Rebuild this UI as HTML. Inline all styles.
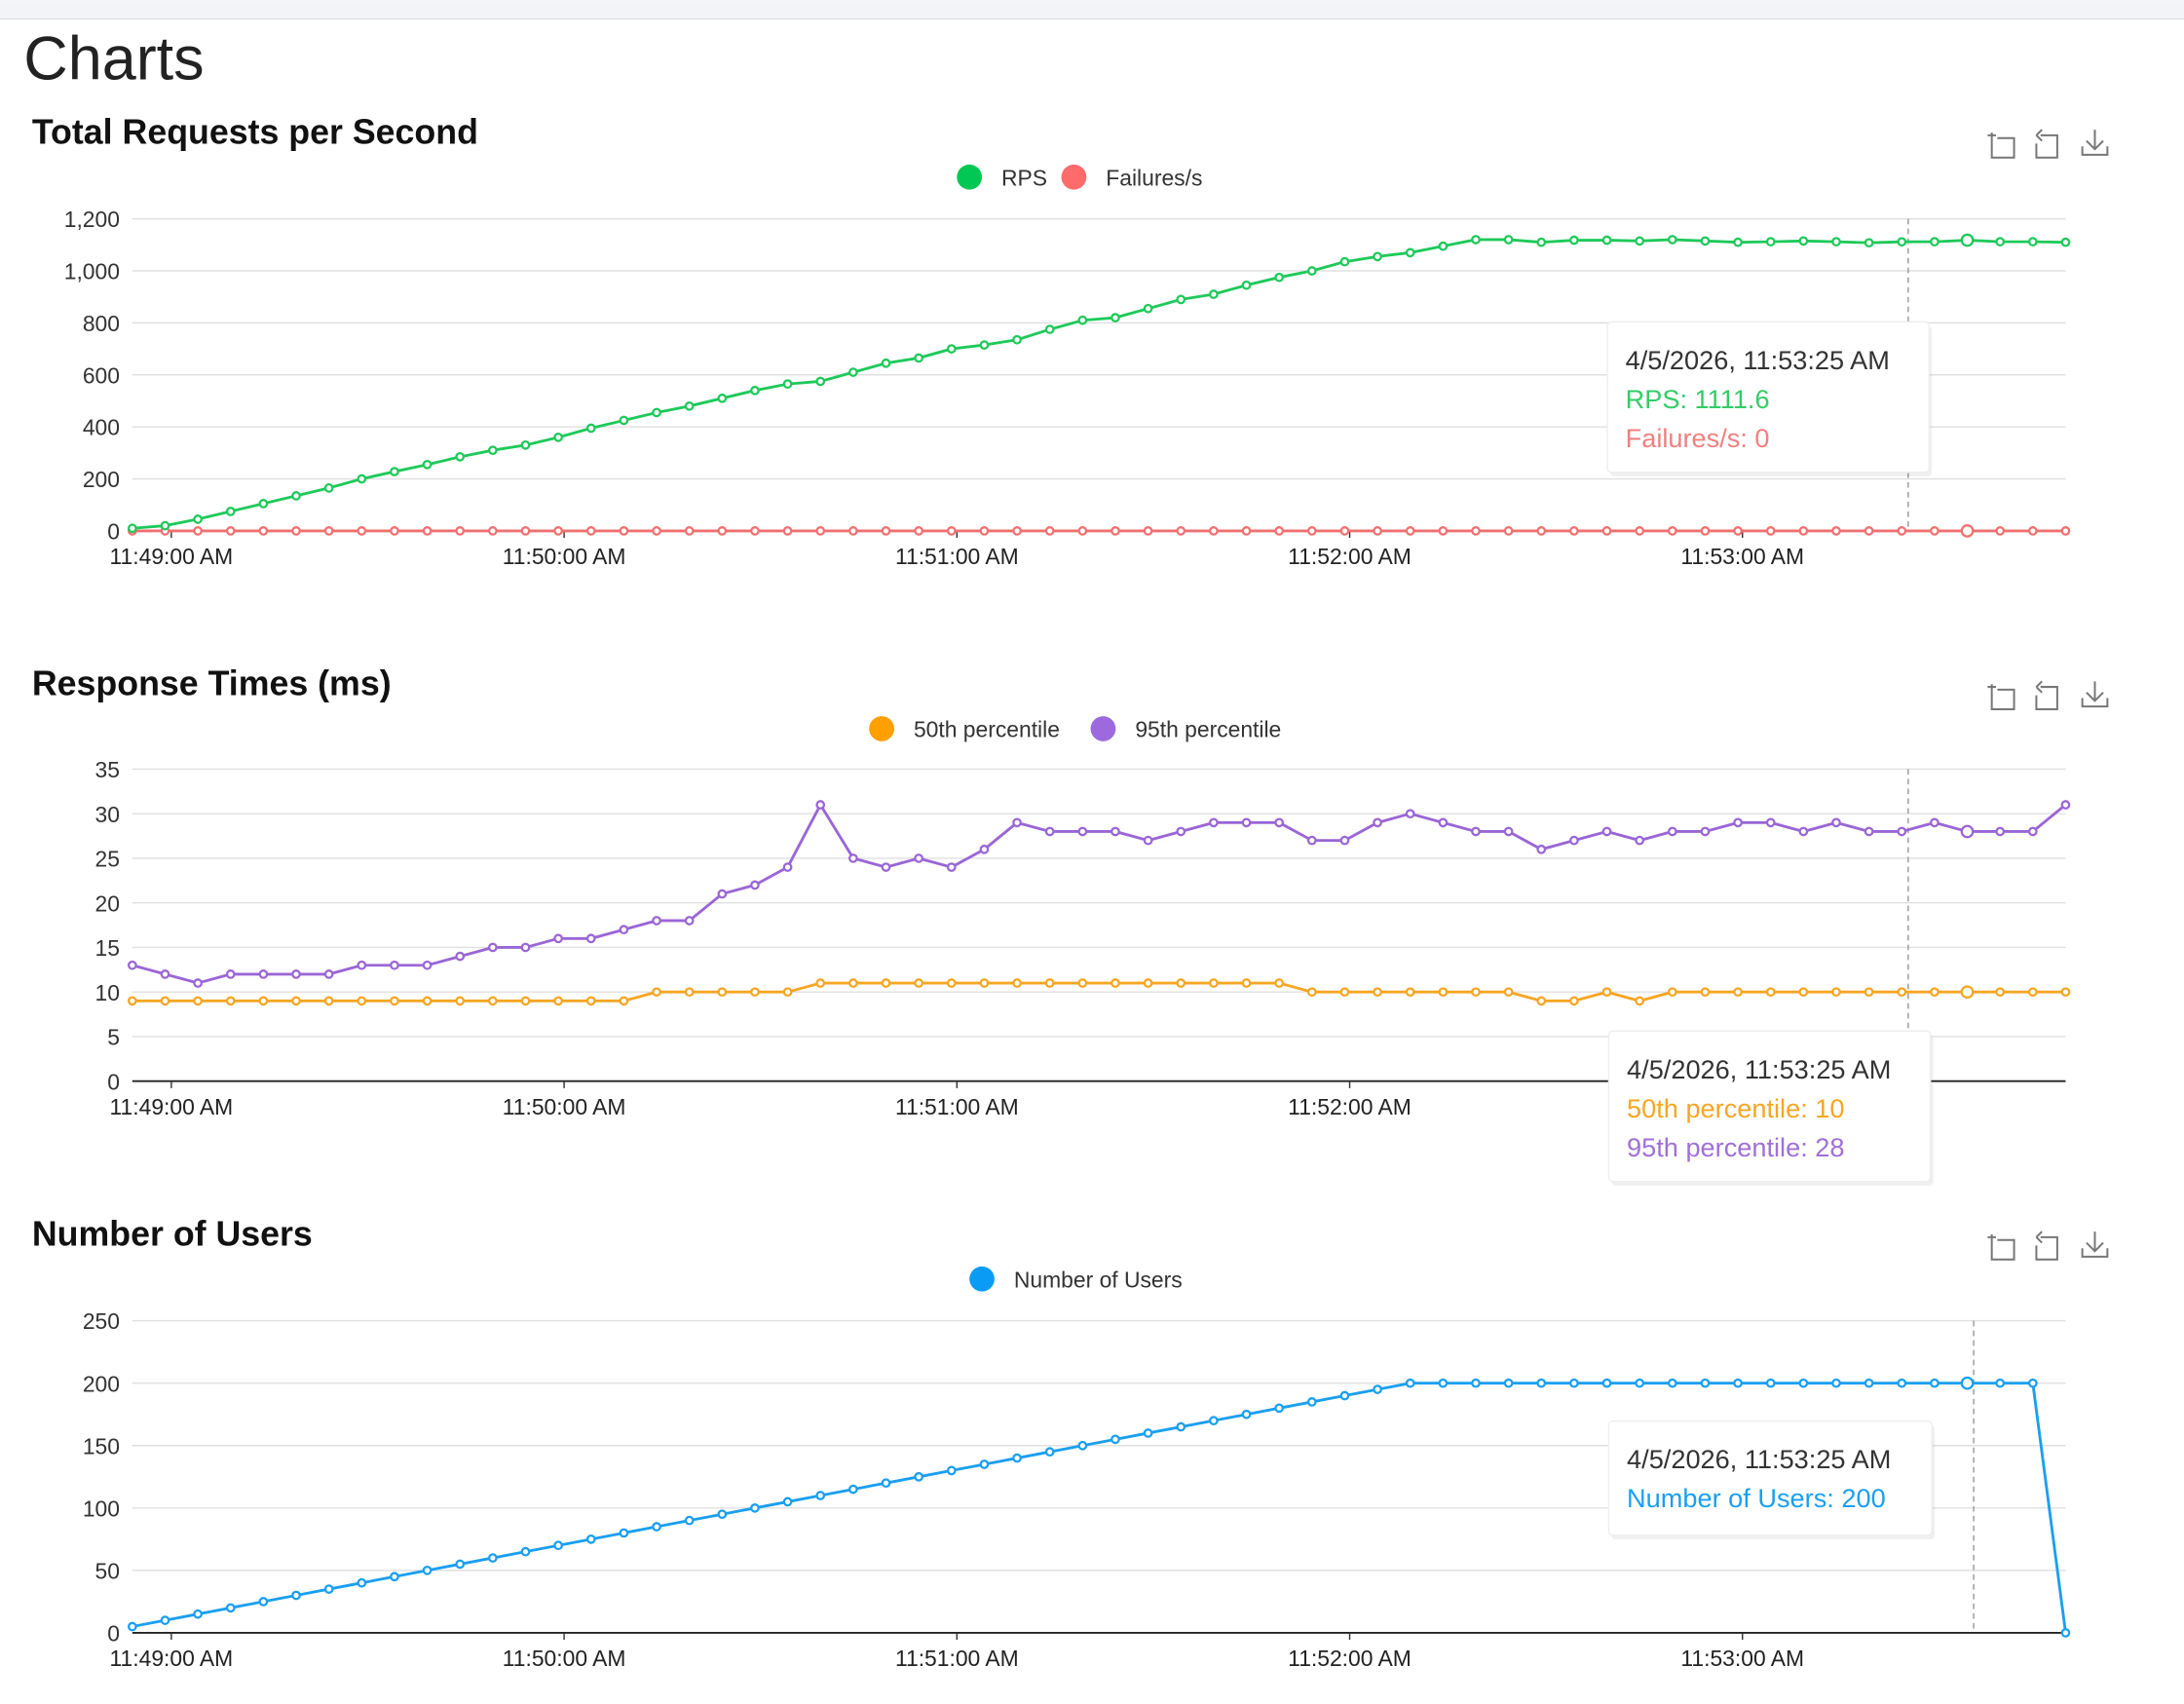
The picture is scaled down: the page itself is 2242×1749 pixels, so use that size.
<!DOCTYPE html>
<html><head><meta charset="utf-8"><style>
html,body{margin:0;padding:0;background:#fff;width:2242px;height:1749px;overflow:hidden}
svg{display:block}
text{font-family:"Liberation Sans","DejaVu Sans",sans-serif}
</style></head><body>
<svg id="root" width="2242" height="1749" viewBox="0 0 1568 1223" xmlns="http://www.w3.org/2000/svg">
<rect x="0" y="0" width="1568" height="13" fill="#f3f4f7"/>
<line x1="0" y1="13.5" x2="1568" y2="13.5" stroke="#dde0e5"/>
<text x="17" y="57" font-size="44" fill="#222">Charts</text>
<g id="charts"></g>
</svg>
<script>
const times = ["11:49:00 AM","11:50:00 AM","11:51:00 AM","11:52:00 AM","11:53:00 AM"];
const rpsValues = [10,20,45,75,105,135,165,200,228,255,285,310,330,360,395,425,455,480,510,540,565,575,610,645,665,700,715,735,775,810,820,855,890,910,945,975,1000,1035,1055,1070,1095,1120,1120,1110,1118,1118,1115,1120,1115,1110,1112,1115,1112,1108,1111.6,1112,1118,1112,1112,1110];
const failValues = [0,0,0,0,0,0,0,0,0,0,0,0,0,0,0,0,0,0,0,0,0,0,0,0,0,0,0,0,0,0,0,0,0,0,0,0,0,0,0,0,0,0,0,0,0,0,0,0,0,0,0,0,0,0,0,0,0,0,0,0];
const p50Values = [9,9,9,9,9,9,9,9,9,9,9,9,9,9,9,9,10,10,10,10,10,11,11,11,11,11,11,11,11,11,11,11,11,11,11,11,10,10,10,10,10,10,10,9,9,10,9,10,10,10,10,10,10,10,10,10,10,10,10,10];
const p95Values = [13,12,11,12,12,12,12,13,13,13,14,15,15,16,16,17,18,18,21,22,24,31,25,24,25,24,26,29,28,28,28,27,28,29,29,29,27,27,29,30,29,28,28,26,27,28,27,28,28,29,29,28,29,28,28,29,28,28,28,31];
const userValues = [5,10,15,20,25,30,35,40,45,50,55,60,65,70,75,80,85,90,95,100,105,110,115,120,125,130,135,140,145,150,155,160,165,170,175,180,185,190,195,200,200,200,200,200,200,200,200,200,200,200,200,200,200,200,200,200,200,200,200,0];
const rpsTicks = [0,200,400,600,800,1000,1200];
const rtTicks = [0,5,10,15,20,25,30,35];
const userTicks = [0,50,100,150,200,250];

const NS="http://www.w3.org/2000/svg";
const G=document.getElementById('charts');
function mk(tag,attrs,parent){const e=document.createElementNS(NS,tag);for(const k in attrs)e.setAttribute(k,attrs[k]);(parent||G).appendChild(e);return e;}
const X0=95, X1=1483;
function xScale(i,n){return X0+(X1-X0)*i/(n-1);}
function timeX(k){return 123+282*k;}

function chart(cfg){
  const g=mk('g',{});
  
  
  const t=mk('text',{x:23,y:cfg.titleY,'font-size':25,'font-weight':'bold',fill:'#111'},g);
  t.textContent=cfg.title;
  
  
  // toolbox icons
  const ic=[1437,1470,1504];
  const iy=cfg.titleY+4;
  const names=['zoom-icon','restore-icon','download-icon'];
  ic.forEach((cx,j)=>{
    const ig=mk('g',{stroke:'#777',fill:'none','stroke-width':1.4},g);
    
    
    if(j==0){mk('path',{d:`M${cx-7} ${iy-12}v18h16v-14h-12M${cx-10} ${iy-10}h6`},ig);}
    else if(j==1){mk('path',{d:`M${cx-5} ${iy-10}h12v16h-15v-10M${cx-8} ${iy-10}l4 -4M${cx-8} ${iy-10}l4 4`},ig);}
    else{mk('path',{d:`M${cx} ${iy-14}v14M${cx-6} ${iy-6}l6 6l6 -6M${cx-9} ${iy-2}v6h18v-6`},ig);}
  });
  // legend
  cfg.legend.forEach(l=>{
    const lg=mk('g',{},g);
    
    
    mk('circle',{cx:l.x,cy:cfg.legendY,r:9,fill:l.color},lg);
    const lt=mk('text',{x:l.x+23,y:cfg.legendY+6,'font-size':16,fill:'#333'},lg);
    lt.textContent=l.label;
  });
  const top=cfg.top,bot=cfg.bot,max=cfg.ticks[cfg.ticks.length-1];
  const yS=v=>bot-(bot-top)*v/max;
  cfg.ticks.forEach(v=>{
    const y=yS(v);
    if(v>0){const gl=mk('line',{x1:X0,x2:X1,y1:y,y2:y,stroke:'#e0e0e0','stroke-width':1},g);
    }
    const tt=mk('text',{x:86,y:y+6,'font-size':16,fill:'#333','text-anchor':'end'},g);
    tt.textContent=v.toLocaleString('en-US');
    
    
  });
  const ax=mk('line',{x1:X0,x2:X1,y1:bot,y2:bot,stroke:cfg.axisColor,'stroke-width':1.3},g);
  
  
  times.forEach((s,k)=>{
    const x=timeX(k);
    mk('line',{x1:x,x2:x,y1:bot,y2:bot+5,stroke:'#333'},g);
    const tl=mk('text',{x:x,y:bot+24,'font-size':16,fill:'#222','text-anchor':'middle'},g);
    tl.textContent=s;
    
    
  });
  mk('line',{x1:cfg.hoverX,x2:cfg.hoverX,y1:top,y2:bot,stroke:'#999','stroke-dasharray':'4 3','stroke-width':1},g);
  cfg.series.forEach(s=>{
    const n=s.values.length;
    const pts=s.values.map((v,i)=>xScale(i,n).toFixed(2)+','+yS(v).toFixed(2)).join(' ');
    const pl=mk('polyline',{points:pts,fill:'none',stroke:s.color,'stroke-width':2},g);
    
    
    s.values.forEach((v,i)=>{
      const big=i===cfg.emph;
      const c=mk('circle',{cx:xScale(i,n),cy:yS(v),r:big?4:2.6,fill:'#fff',stroke:s.color,'stroke-width':1.6},g);
      
      
    });
  });
  // tooltip
  const tp=cfg.tip;
  const tg=mk('g',{},g);
  
  
  mk('rect',{x:tp.x+2,y:tp.y+3,width:tp.w,height:tp.h,rx:3,fill:'#000',opacity:0.06},tg);
  mk('rect',{x:tp.x,y:tp.y,width:tp.w,height:tp.h,rx:3,fill:'#fff',stroke:'#eee'},tg);
  tp.lines.forEach((l,k)=>{
    const tx=mk('text',{x:tp.x+13,y:tp.y+34+k*28,'font-size':19,fill:l[1]},tg);
    tx.textContent=l[0];
  });
}
chart({name:'rps-chart',title:'Total Requests per Second',titleY:103,legendY:127,top:157,bot:381,ticks:rpsTicks,axisColor:'#ccc',hoverX:1370,emph:56,
  legend:[{x:696,color:'#00c853',label:'RPS'},{x:771,color:'#ff6b6b',label:'Failures/s'}],
  series:[{name:'failures',values:failValues,color:'#f07070'},{name:'rps',values:rpsValues,color:'#1ec95a'}],
  tip:{x:1154,y:231,w:231,h:108,lines:[['4/5/2026, 11:53:25 AM','#333'],['RPS: 1111.6','#33cc66'],['Failures/s: 0','#f08080']]}});
chart({name:'response-times-chart',title:'Response Times (ms)',titleY:499,legendY:523,top:552,bot:776,ticks:rtTicks,axisColor:'#222',hoverX:1370,emph:56,
  legend:[{x:633,color:'#ff9f00',label:'50th percentile'},{x:792,color:'#9c6ade',label:'95th percentile'}],
  series:[{name:'p50',values:p50Values,color:'#f5a623'},{name:'p95',values:p95Values,color:'#9a66d6'}],
  tip:{x:1155,y:740,w:231,h:108,lines:[['4/5/2026, 11:53:25 AM','#333'],['50th percentile: 10','#f5a623'],['95th percentile: 28','#a070d8']]}});
chart({name:'users-chart',title:'Number of Users',titleY:894,legendY:918,top:948,bot:1172,ticks:userTicks,axisColor:'#222',hoverX:1417,emph:56,
  legend:[{x:705,color:'#0a9cf5',label:'Number of Users'}],
  series:[{name:'users',values:userValues,color:'#1a9ff0'}],
  tip:{x:1155,y:1020,w:232,h:82,lines:[['4/5/2026, 11:53:25 AM','#333'],['Number of Users: 200','#1a9ff0']]}});
</script>
</body></html>
